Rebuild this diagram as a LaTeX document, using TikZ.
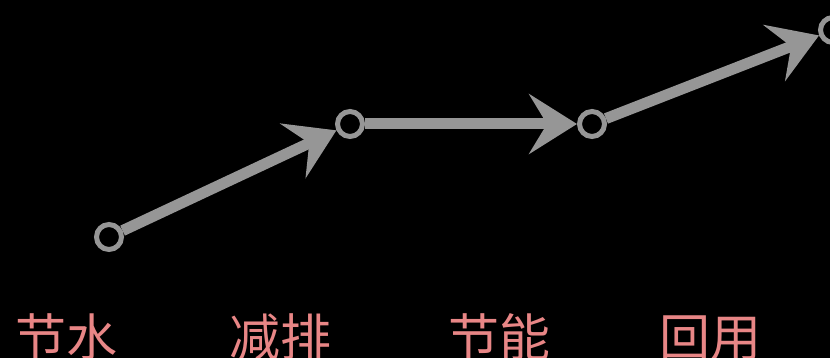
\documentclass[tikz,border=0pt]{standalone}
\usepackage{fontspec}
\newfontfamily\cjk{Noto Sans CJK SC}
\usetikzlibrary{arrows.meta}
\definecolor{linegray}{RGB}{150,150,150}
\definecolor{labelpink}{RGB}{232,134,134}
\tikzset{
  dot/.style={circle,draw=linegray,fill=black,line width=5pt,minimum size=25pt,inner sep=0pt},
  conn/.style={draw=linegray,line width=11pt,-{Stealth[length=48pt,width=60pt,inset=18pt]}},
  lbl/.style={text=labelpink,font=\cjk\fontsize{51pt}{51pt}\selectfont,anchor=base,inner sep=0pt}
}
\begin{document}
\begin{tikzpicture}[x=1pt,y=-1pt]
\fill[black] (0,0) rectangle (830,358);
\useasboundingbox (0,0) rectangle (830,358);
\clip (0,0) rectangle (830,358);
\node[dot] (n1) at (109,237) {};
\node[dot] (n2) at (350,124) {};
\node[dot] (n3) at (592,124) {};
\node[dot] (n4) at (833,30) {};
\draw[conn] (n1) -- (n2);
\draw[conn] (n2) -- (n3);
\draw[conn] (n3) -- (n4);
\node[lbl] (t1) at (66,356) {节水};
\node[lbl] (t2) at (280,356) {减排};
\node[lbl] (t3) at (499,356) {节能};
\node[lbl] (t4) at (710,356) {回用};
\end{tikzpicture}
\end{document}
